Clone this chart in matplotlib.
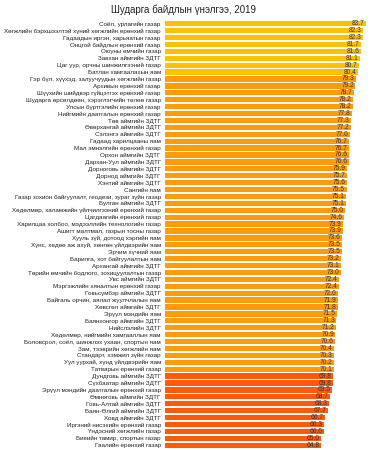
import matplotlib
matplotlib.use("Agg")
import matplotlib.pyplot as plt

plt.rcParams['font.family'] = ['Liberation Sans', 'DejaVu Sans']

# Байгууллагууд (дээрээс доош)
names = [
    "Соёл, урлагийн газар",
    "Хөгжлийн бэрхшээлтэй хүний хөгжлийн ерөнхий газар",
    "Гадаадын иргэн, харьяатын газар",
    "Онцгой байдлын ерөнхий газар",
    "Оюуны өмчийн газар",
    "Завхан аймгийн ЗДТГ",
    "Цаг уур, орчны шинжилгээний газар",
    "Батлан хамгаалахын яам",
    "Гэр бүл, хүүхэд, залуучуудын хөгжлийн газар",
    "Архивын ерөнхий газар",
    "Шүүхийн шийдвэр гүйцэтгэх ерөнхий газар",
    "Шударга өрсөлдөөн, хэрэглэгчийн төлөө газар",
    "Улсын бүртгэлийн ерөнхий газар",
    "Нийгмийн даатгалын ерөнхий газар",
    "Төв аймгийн ЗДТГ",
    "Өвөрхангай аймгийн ЗДТГ",
    "Сэлэнгэ аймгийн ЗДТГ",
    "Гадаад харилцааны яам",
    "Мал эмнэлгийн ерөнхий газар",
    "Орхон аймгийн ЗДТГ",
    "Дархан-Уул аймгийн ЗДТГ",
    "Дорноговь аймгийн ЗДТГ",
    "Дорнод аймгийн ЗДТГ",
    "Хэнтий аймгийн ЗДТГ",
    "Сангийн яам",
    "Газар зохион байгуулалт, геодези, зураг зүйн газар",
    "Булган аймгийн ЗДТГ",
    "Хөдөлмөр, халамжийн үйлчилгээний ерөнхий газар",
    "Цагдаагийн ерөнхий газар",
    "Харилцаа холбоо, мэдээллийн технологийн газар",
    "Ашигт малтмал, газрын тосны газар",
    "Хууль зүй, дотоод хэргийн яам",
    "Хүнс, хөдөө аж ахуй, хөнгөн үйлдвэрийн яам",
    "Эрчим хүчний яам",
    "Барилга, хот байгуулалтын яам",
    "Архангай аймгийн ЗДТГ",
    "Төрийн өмчийн бодлого, зохицуулалтын газар",
    "Увс аймгийн ЗДТГ",
    "Мэргэжлийн хяналтын ерөнхий газар",
    "Говьсүмбэр аймгийн ЗДТГ",
    "Байгаль орчин, аялал жуулчлалын яам",
    "Хөвсгөл аймгийн ЗДТГ",
    "Эрүүл мэндийн яам",
    "Баянхонгор аймгийн ЗДТГ",
    "Нийслэлийн ЗДТГ",
    "Хөдөлмөр, нийгмийн хамгааллын яам",
    "Боловсрол, соёл, шинжлэх ухаан, спортын яам",
    "Зам, тээврийн хөгжлийн яам",
    "Стандарт, хэмжил зүйн газар",
    "Уул уурхай, хүнд үйлдвэрийн яам",
    "Татварын ерөнхий газар",
    "Дундговь аймгийн ЗДТГ",
    "Сүхбаатар аймгийн ЗДТГ",
    "Эрүүл мэндийн даатгалын ерөнхий газар",
    "Өмнөговь аймгийн ЗДТГ",
    "Говь-Алтай аймгийн ЗДТГ",
    "Баян-Өлгий аймгийн ЗДТГ",
    "Ховд аймгийн ЗДТГ",
    "Иргэний нисэхийн ерөнхий газар",
    "Үндэсний хөгжлийн газар",
    "Биеийн тамир, спортын газар",
    "Гаалийн ерөнхий газар",
]

scores = [83.7, 82.3, 82.3, 81.7, 81.6, 81.1, 80.7, 80.4,
          79.3, 79.2, 78.7, 78.2, 78.2, 77.8, 77.3, 77.2, 77.0, 76.7, 76.7, 76.6,
          76.6, 75.9, 75.7, 75.6, 75.5, 75.1, 75.1, 75.0, 74.6, 73.9, 73.9, 73.6,
          73.5, 73.5, 73.2, 73.1, 73.0, 72.4, 72.4, 72.0, 71.9, 71.8, 71.5, 71.3,
          71.2, 70.9, 70.6, 70.4, 70.3, 70.2, 70.1,
          69.8, 69.8, 69.5, 68.7, 68.3, 67.7, 66.7, 66.3, 66.0, 65.0, 64.8]

def bar_color(v):
    if v >= 80:
        return "#FFC000"
    if v >= 70:
        return "#FF9A0A"
    return "#FF5A0A"

colors = [bar_color(v) for v in scores]
pos = list(range(len(scores)))

fig = plt.figure(figsize=(3.75, 4.5), dpi=100)
ax = fig.add_axes([0.44, 0.003, 0.545, 0.952])
ax.barh(pos, scores, height=0.76, color=colors)
ax.set_ylim(len(scores) - 0.5, -0.5)
ax.set_xlim(0, 85)
ax.set_yticks(pos)
ax.set_yticklabels(names, fontsize=4.5, color="#222222")
ax.tick_params(axis="y", length=0, pad=3)
ax.set_xticks([])
for s in ax.spines.values():
    s.set_visible(False)

for p, v in zip(pos, scores):
    ax.text(v - 0.6, p, f"{v:.1f}", ha="right", va="center", fontsize=4.8, color="#333333")

fig.suptitle("Шударга байдлын үнэлгээ, 2019", fontsize=7, y=0.99, x=0.49, color="#222222")

fig.savefig("out.png", dpi=100)
